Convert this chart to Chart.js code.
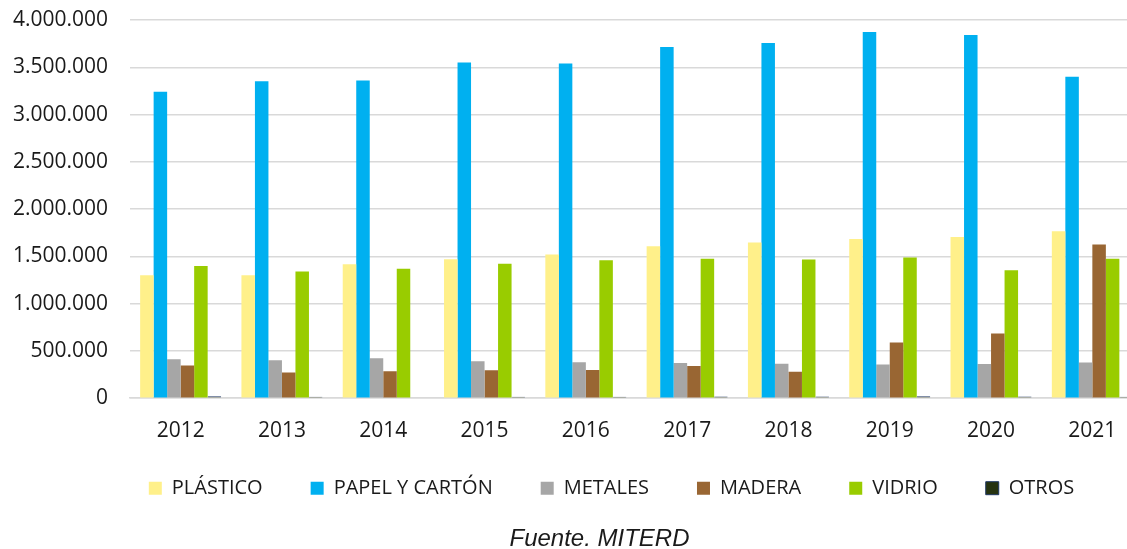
<!DOCTYPE html>
<html>
<head>
<meta charset="utf-8">
<script src="https://cdn.jsdelivr.net/npm/chart.js@4"></script>
<style>
  html, body { margin: 0; padding: 0; background: #fff; overflow: hidden; }
  #wrap { width: 1224px; height: 549px; position: relative; }
</style>
</head>
<body>
<div id="wrap"><canvas id="myChart1"></canvas></div>
<script>
const years = ["2012", "2013", "2014", "2015", "2016", "2017", "2018", "2019", "2020", "2021"]
const plastico = [1300000, 1300000, 1418000, 1469000, 1521000, 1606000, 1648000, 1683000, 1704000, 1767000]
const papel = [3240000, 3353000, 3360000, 3551000, 3541000, 3714000, 3756000, 3873000, 3841000, 3399000]
const metales = [412000, 402000, 423000, 390000, 379000, 372000, 365000, 357000, 363000, 378000]
const madera = [346000, 272000, 286000, 295000, 299000, 341000, 281000, 589000, 685000, 1626000]
const vidrio = [1397000, 1341000, 1368000, 1423000, 1458000, 1476000, 1468000, 1489000, 1354000, 1474000]
const otros = [20000, 15000, 8000, 15000, 15000, 18000, 18000, 20000, 18000, 15000]
const yTicks = [0, 500000, 1000000, 1500000, 2000000, 2500000, 3000000, 3500000, 4000000]

// thousands with dots, like 4.000.000
function fmt(v) {
    return String(v).replace(/\B(?=(\d{3})+(?!\d))/g, '.')
}

// legend height fixed, and legend / footer nudged like the original
const shiftPlugin = {
    id: 'shiftPlugin',
    beforeInit(chart) {
        const fit = chart.legend.fit
        chart.legend.fit = function () {
            fit.bind(chart.legend)()
            this.height = 83
        }
    },
    afterLayout(chart) {
        chart.legend.left += 40
        chart.legend.right += 40
        chart.legend.top -= 12
        chart.legend.bottom -= 12
        chart.titleBlock.left += 28
        chart.titleBlock.right += 28
    }
}

const data1 = {
    labels: years,
    datasets: [
        { label: 'PLÁSTICO', data: plastico, backgroundColor: '#FFF08A' },
        { label: 'PAPEL Y CARTÓN', data: papel, backgroundColor: '#00B0F0' },
        { label: 'METALES', data: metales, backgroundColor: '#A6A6A6' },
        { label: 'MADERA', data: madera, backgroundColor: '#996633' },
        { label: 'VIDRIO', data: vidrio, backgroundColor: '#99CC00' },
        { label: 'OTROS', data: otros, backgroundColor: '#263310', borderColor: '#203864', borderWidth: 1 }
    ]
};

const config1 = {
    type: 'bar',
    data: data1,
    plugins: [shiftPlugin],
    options: {
        responsive: true,
        maintainAspectRatio: false,
        animation: false,
        layout: {
            padding: { left: 0, right: 81, top: 20, bottom: -5 }
        },
        datasets: {
            bar: { categoryPercentage: 0.8, barPercentage: 1.0 }
        },
        scales: {
            x: {
                grid: { display: false, drawTicks: false },
                border: { color: '#d9d9d9', width: 1.5 },
                afterFit: function (axis) { axis.height = 44 },
                ticks: {
                    color: '#1a1a1a',
                    padding: 20,
                    font: { family: 'Open Sans', size: 21 }
                }
            },
            y: {
                min: 0,
                max: 4000000,
                afterBuildTicks: function (axis) {
                    axis.ticks = yTicks.map(v => ({ value: v }))
                },
                afterFit: function (axis) {
                    axis.width = 130
                    axis.paddingTop = 0
                    axis.paddingBottom = 0
                },
                grid: { color: '#d9d9d9', lineWidth: 1.5, drawTicks: false },
                border: { display: false },
                ticks: {
                    color: '#1a1a1a',
                    padding: 22,
                    font: { family: 'Open Sans', size: 21 },
                    callback: v => fmt(v)
                }
            }
        },
        plugins: {
            legend: {
                position: 'bottom',
                labels: {
                    boxWidth: 13,
                    boxHeight: 13,
                    padding: 48,
                    color: '#1a1a1a',
                    font: { family: 'Open Sans', size: 20 }
                }
            },
            title: {
                display: true,
                position: 'bottom',
                text: 'Fuente. MITERD',
                color: '#1a1a1a',
                font: { family: 'Liberation Sans', size: 24, style: 'italic', weight: 'normal', lineHeight: 1.2 },
                padding: 0
            },
            tooltip: { enabled: false }
        }
    }
};

var myChart = new Chart(
    document.getElementById('myChart1'),
    config1
);
</script>
</body>
</html>
